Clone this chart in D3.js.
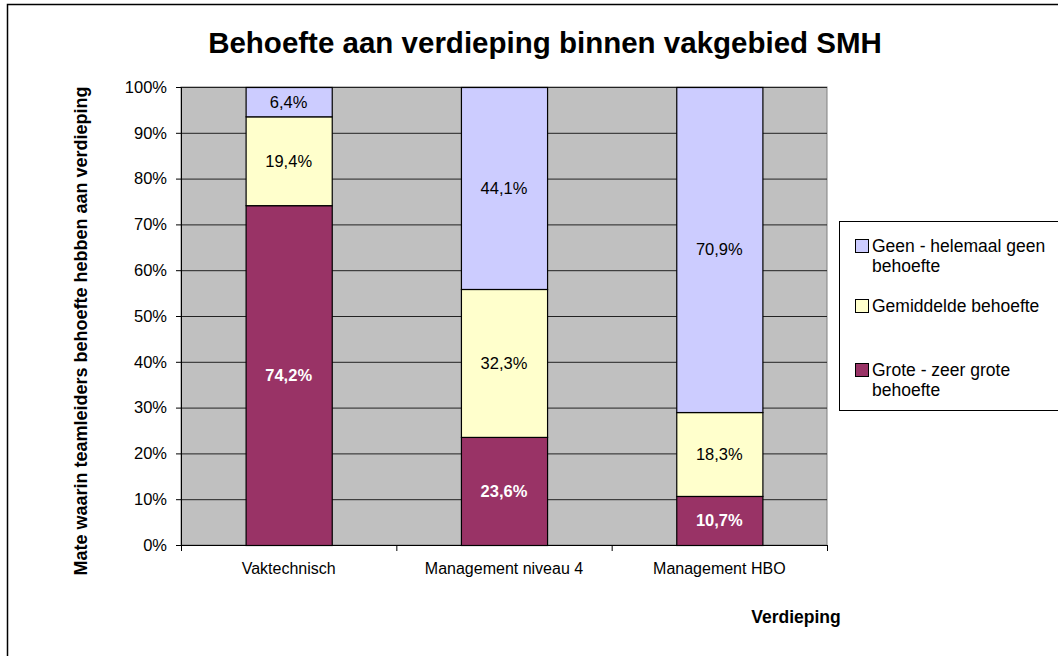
<!DOCTYPE html>
<html>
<head>
<meta charset="utf-8">
<script src="https://cdn.jsdelivr.net/npm/d3@7"></script>
<style>
  body { margin: 0; background: #fff; }
  svg { font-family: "Liberation Sans", Arial, sans-serif; }
</style>
</head>
<body>
<svg id="chart" width="1058" height="656"></svg>
<script>
// data
var categories = ["Vaktechnisch", "Management niveau 4", "Management HBO"];
var grote = [74.2, 23.6, 10.7];
var gemiddeld = [19.4, 32.3, 18.3];
var geen = [6.4, 44.1, 70.9];
var yTicks = [0, 10, 20, 30, 40, 50, 60, 70, 80, 90, 100];

var colors = ["#993366", "#FFFFCC", "#CCCCFF"];
var labelColors = ["#fff", "#000", "#000"];
var labelWeight = ["bold", "normal", "normal"];

var svg = d3.select("#chart");

// outer frame (right/bottom run off the picture)
svg.append("rect")
    .attr("x", 7.5).attr("y", 4.5)
    .attr("width", 1100).attr("height", 700)
    .attr("fill", "none").attr("stroke", "#000").attr("stroke-width", 1.5);

var margin = {top: 87, left: 181},
    width = 646,
    height = 458;

var g = svg.append("g").attr("transform", "translate(" + margin.left + "," + margin.top + ")");

var x = d3.scaleBand()
    .domain(categories)
    .range([0, width])
    .paddingInner(0.6)
    .paddingOuter(0.3);

var xb = d3.scaleBand().domain(categories).range([0, width]);

var y = d3.scaleLinear().domain([0, 1]).range([height, 0]);
var yPct = d3.scaleLinear().domain([0, 100]).range([height, 0]);

// plot background
g.append("rect")
    .attr("width", width).attr("height", height)
    .attr("fill", "#C0C0C0").attr("stroke", "#808080");

// gridlines
g.selectAll(".grid")
    .data(yTicks.slice(1))
  .enter().append("line")
    .attr("class", "grid")
    .attr("x1", 0).attr("x2", width)
    .attr("y1", function(d) { return yPct(d) + 0.5; })
    .attr("y2", function(d) { return yPct(d) + 0.5; })
    .attr("stroke", "#222").attr("stroke-width", 1);

// stacked data (100% stacked)
var rows = categories.map(function(c, i) {
  return {cat: c, s0: grote[i], s1: gemiddeld[i], s2: geen[i]};
});
var keys = ["s0", "s1", "s2"];
var layers = d3.stack().keys(keys).offset(d3.stackOffsetExpand)(rows);

layers.forEach(function(layer, li) {
  var sg = g.append("g").attr("class", "serie");

  sg.selectAll("rect")
      .data(layer)
    .enter().append("rect")
      .attr("x", function(d) { return x(d.data.cat) + 0.5; })
      .attr("y", function(d) { return y(d[1]) + 0.5; })
      .attr("height", function(d) { return y(d[0]) - y(d[1]); })
      .attr("width", x.bandwidth())
      .attr("fill", colors[li])
      .attr("stroke", "#000").attr("stroke-width", 1.2);

  sg.selectAll("text")
      .data(layer)
    .enter().append("text")
      .attr("x", function(d) { return x(d.data.cat) + x.bandwidth() / 2; })
      .attr("y", function(d) { return (y(d[0]) + y(d[1])) / 2; })
      .attr("dy", "0.36em")
      .attr("text-anchor", "middle")
      .attr("font-size", "16.5px")
      .attr("font-weight", labelWeight[li])
      .attr("fill", labelColors[li])
      .text(function(d) { return d.data[keys[li]].toFixed(1).replace(".", ",") + "%"; });
});

// y axis
var yAxis = g.append("g")
    .call(d3.axisLeft(yPct).tickValues(yTicks).tickSize(5).tickPadding(9)
      .tickFormat(function(d) { return d + "%"; }));
yAxis.select(".domain").attr("stroke", "#000");
yAxis.selectAll("text")
    .attr("font-size", "16.5px")
    .attr("font-family", "Liberation Sans, Arial, sans-serif")
    .attr("fill", "#000");

// x axis: ticks at category boundaries
var xAxis = g.append("g").attr("transform", "translate(0," + height + ")");
xAxis.append("line")
    .attr("x1", 0).attr("x2", width).attr("y1", 0.5).attr("y2", 0.5)
    .attr("stroke", "#000");
xAxis.selectAll(".tick")
    .data(categories.concat(["end"]))
  .enter().append("line")
    .attr("x1", function(d, i) { return i < categories.length ? xb(d) + 0.5 : width + 0.5; })
    .attr("x2", function(d, i) { return i < categories.length ? xb(d) + 0.5 : width + 0.5; })
    .attr("y1", 0).attr("y2", 6)
    .attr("stroke", "#000");
xAxis.selectAll(".lbl")
    .data(categories)
  .enter().append("text")
    .attr("x", function(d) { return xb(d) + xb.bandwidth() / 2; })
    .attr("y", 29)
    .attr("text-anchor", "middle")
    .attr("font-size", "16px")
    .text(function(d) { return d; });

// titles
svg.append("text")
    .attr("x", 545).attr("y", 53)
    .attr("text-anchor", "middle")
    .attr("font-size", "29.5px").attr("font-weight", "bold")
    .text("Behoefte aan verdieping binnen vakgebied SMH");

svg.append("text")
    .attr("transform", "translate(87," + (margin.top + height / 2 + 15) + ") rotate(-90)")
    .attr("text-anchor", "middle")
    .attr("font-size", "18px").attr("font-weight", "bold")
    .text("Mate waarin teamleiders behoefte hebben aan verdieping");

svg.append("text")
    .attr("x", 796).attr("y", 623)
    .attr("text-anchor", "middle")
    .attr("font-size", "17.5px").attr("font-weight", "bold")
    .text("Verdieping");

// legend
svg.append("rect")
    .attr("x", 839.5).attr("y", 221.5)
    .attr("width", 300).attr("height", 189)
    .attr("fill", "#fff").attr("stroke", "#000");

var legendItems = [
  {lines: ["Geen - helemaal geen", "behoefte"], color: colors[2], y: 252},
  {lines: ["Gemiddelde behoefte"], color: colors[1], y: 312},
  {lines: ["Grote - zeer grote", "behoefte"], color: colors[0], y: 376}
];

var legend = svg.selectAll(".legend")
    .data(legendItems)
  .enter().append("g")
    .attr("class", "legend")
    .attr("transform", function(d) { return "translate(855," + d.y + ")"; });

legend.append("rect")
    .attr("x", 0.5).attr("y", -12.5)
    .attr("width", 13).attr("height", 13)
    .attr("fill", function(d) { return d.color; })
    .attr("stroke", "#000");

legend.append("text")
    .attr("font-size", "17.5px")
    .selectAll("tspan")
    .data(function(d) { return d.lines; })
  .enter().append("tspan")
    .attr("x", 17)
    .attr("y", function(d, i) { return i * 19.5; })
    .text(function(d) { return d; });
</script>
</body>
</html>
